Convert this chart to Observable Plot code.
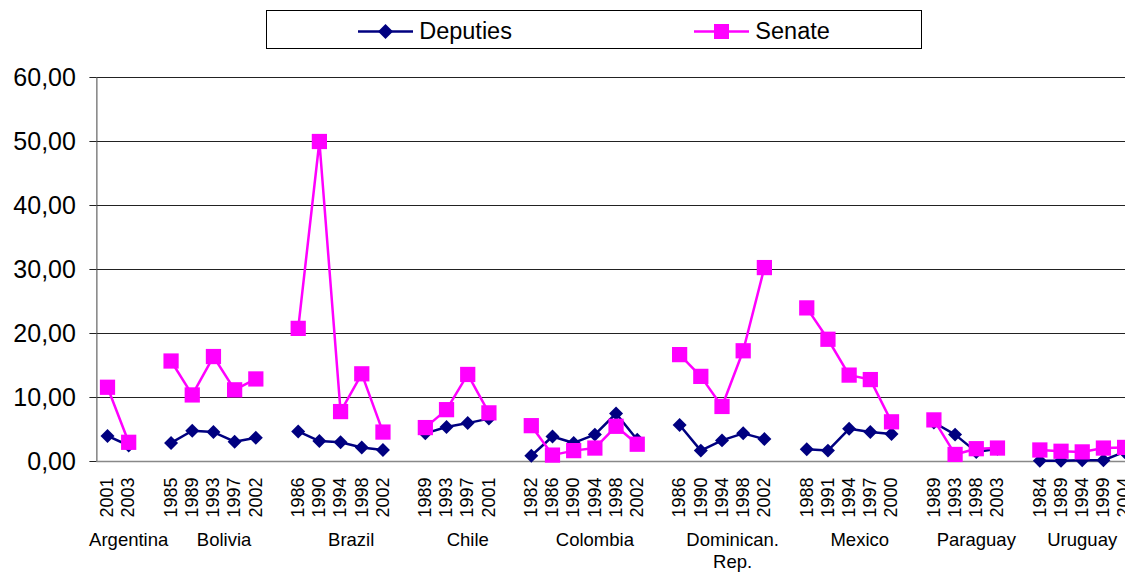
<!DOCTYPE html>
<html>
<head>
<meta charset="utf-8">
<script src="https://cdn.jsdelivr.net/npm/d3@7"></script>
<script src="https://cdn.jsdelivr.net/npm/@observablehq/plot@0.6"></script>
<style>
  html, body { margin: 0; padding: 0; overflow: hidden; background: #fff; }
  body { width: 1125px; height: 574px; position: relative; font-family: Arial, "Liberation Sans", sans-serif; }
  #legend {
    position: absolute; left: 266px; top: 10px; width: 656px; height: 39px;
    box-sizing: border-box; border: 1px solid #000; background: #fff;
    display: flex; justify-content: space-around; align-items: center; z-index: 2;
  }
  .item { display: flex; align-items: center; font-size: 23.5px; color: #000; margin-top: 3px; }
  .item svg { margin-right: 6px; }
  #chart { position: absolute; left: 0; top: 0; width: 1136px; }
  #chart svg { max-width: none !important; }
</style>
</head>
<body>
<div id="legend"></div>
<div id="chart"></div>
<script>
// ---- data ----
const countries = ["Argentina", "Bolivia", "Brazil", "Chile", "Colombia", "Dominican.\nRep.", "Mexico", "Paraguay", "Uruguay"];
const years = [
  [2001, 2003],
  [1985, 1989, 1993, 1997, 2002],
  [1986, 1990, 1994, 1998, 2002],
  [1989, 1993, 1997, 2001],
  [1982, 1986, 1990, 1994, 1998, 2002],
  [1986, 1990, 1994, 1998, 2002],
  [1988, 1991, 1994, 1997, 2000],
  [1989, 1993, 1998, 2003],
  [1984, 1989, 1994, 1999, 2004]
];
const deputies = [
  [4.0, 2.5],
  [2.9, 4.8, 4.6, 3.1, 3.7],
  [4.7, 3.2, 3.0, 2.2, 1.8],
  [4.4, 5.4, 6.0, 6.7],
  [0.9, 3.9, 2.9, 4.2, 7.5, 3.4],
  [5.7, 1.7, 3.3, 4.4, 3.5],
  [1.9, 1.7, 5.1, 4.6, 4.3],
  [6.1, 4.2, 1.5, 2.0],
  [0.1, 0.1, 0.2, 0.2, 1.5]
];
const senate = [
  [11.6, 3.0],
  [15.7, 10.4, 16.4, 11.2, 12.9],
  [20.8, 50.0, 7.8, 13.7, 4.6],
  [5.3, 8.1, 13.6, 7.6],
  [5.6, 1.0, 1.7, 2.1, 5.5, 2.7],
  [16.7, 13.3, 8.6, 17.3, 30.3],
  [24.0, 19.1, 13.5, 12.8, 6.2],
  [6.5, 1.1, 2.0, 2.1],
  [1.8, 1.6, 1.5, 2.1, 2.2]
];
const yTicks = [0, 10, 20, 30, 40, 50, 60];
const seriesNames = ["Deputies", "Senate"];
const seriesColors = ["#000080", "#FF00FF"];

// ---- build category slots (each country group is followed by one blank category) ----
const slots = [];
countries.forEach((c, ci) => {
  years[ci].forEach((yr, j) => {
    slots.push({country: c, year: yr, i: slots.length, dep: deputies[ci][j], sen: senate[ci][j]});
  });
  if (ci < countries.length - 1) slots.push({country: c, year: null, i: slots.length});
});
const points = slots.filter(d => d.year !== null);
const countryLabels = countries.map(c => {
  const idx = slots.filter(d => d.country === c).map(d => d.i);
  return {name: c, cx: d3.mean(idx)};
});

const fmt = v => v.toFixed(2).replace(".", ",");
const W = 1136;

const chart = Plot.plot({
  width: W,
  height: 574,
  marginTop: 77,
  marginBottom: 113,
  marginLeft: 96.4,
  marginRight: 1.3,
  style: {fontFamily: "Arial, 'Liberation Sans', sans-serif", color: "#000", background: "transparent", overflow: "visible", maxWidth: "none"},
  x: {type: "linear", domain: [-0.5, slots.length - 0.5], axis: null},
  y: {domain: [0, 60], axis: null},
  marks: [
    Plot.gridY(yTicks, {stroke: "#222", strokeOpacity: 1, strokeWidth: 1}),
    Plot.axisY({ticks: yTicks, tickFormat: fmt, tickSize: 7, tickPadding: 14, fontSize: 25, stroke: "#222"}),
    Plot.ruleX([-0.5], {stroke: "#444", strokeWidth: 1}),
    Plot.ruleY([0], {stroke: "#888", strokeWidth: 1.6}),
    Plot.line(points, {x: "i", y: "dep", z: "country", stroke: seriesColors[0], strokeWidth: 2.5}),
    Plot.dot(points, {x: "i", y: "dep", symbol: "diamond2", r: 6.3, fill: seriesColors[0], stroke: "none"}),
    Plot.line(points, {x: "i", y: "sen", z: "country", stroke: seriesColors[1], strokeWidth: 2.5}),
    Plot.dot(points, {x: "i", y: "sen", symbol: "square", r: 8.6, fill: seriesColors[1], stroke: "none"}),
    Plot.text(points, {x: "i", text: d => String(d.year), frameAnchor: "bottom", rotate: -90,
      textAnchor: "end", lineAnchor: "middle", dy: 16, fontSize: 18, fill: "#000"}),
    Plot.text(countryLabels, {x: "cx", text: "name", frameAnchor: "bottom", lineAnchor: "top",
      dy: 69, fontSize: 18.5, lineHeight: 1.19, fill: "#000"})
  ]
});
document.getElementById("chart").appendChild(chart);

// ---- legend ----
const legend = document.getElementById("legend");
seriesNames.forEach((name, k) => {
  const item = document.createElement("div");
  item.className = "item";
  const marker = k === 0
    ? `<path d="M27.5,3 L35,10.5 L27.5,18 L20,10.5 Z" fill="${seriesColors[k]}"/>`
    : `<rect x="20" y="3" width="15" height="15" fill="${seriesColors[k]}"/>`;
  item.innerHTML = `<svg width="55" height="21" viewBox="0 0 55 21"><line x1="0" x2="55" y1="10.5" y2="10.5" stroke="${seriesColors[k]}" stroke-width="2.5"/>${marker}</svg><span>${name}</span>`;
  legend.appendChild(item);
});
</script>
</body>
</html>
